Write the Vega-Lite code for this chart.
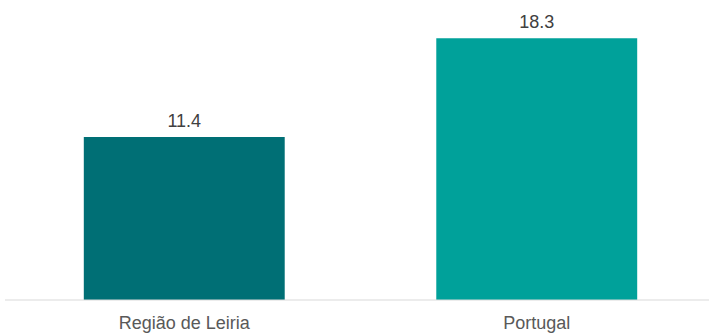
{
  "$schema": "https://vega.github.io/schema/vega-lite/v6.json",
  "width": 704,
  "height": 286,
  "autosize": {"type": "none"},
  "padding": {"left": 5, "right": 0, "top": 14, "bottom": 33},
  "background": "#ffffff",
  "config": {"view": {"stroke": null}, "font": "Liberation Sans"},
  "data": {"values": [
    {"regiao": "Região de Leiria", "valor": 11.4},
    {"regiao": "Portugal", "valor": 18.3}
  ]},
  "encoding": {
    "x": {
      "field": "regiao", "type": "nominal", "sort": null,
      "scale": {"range": [7, 704], "paddingInner": 0.43, "paddingOuter": 0.2037},
      "axis": {"title": null, "domain": false, "ticks": false, "tickSize": 0, "labelAngle": 0,
               "labelFont": "Liberation Sans", "labelFontSize": 18, "labelColor": "#595959",
               "labelBaseline": "alphabetic", "labelPadding": 28}
    }
  },
  "layer": [
    {
      "mark": {"type": "bar"},
      "encoding": {
        "y": {"field": "valor", "type": "quantitative", "scale": {"domain": [0, 20]}, "axis": null},
        "color": {"field": "regiao", "type": "nominal", "sort": null,
                  "scale": {"domain": ["Região de Leiria", "Portugal"], "range": ["#006f75", "#00a19a"]},
                  "legend": null}
      }
    },
    {
      "mark": {"type": "text", "baseline": "alphabetic", "dy": -10, "fontSize": 18, "font": "Liberation Sans", "color": "#404040"},
      "encoding": {
        "y": {"field": "valor", "type": "quantitative"},
        "text": {"field": "valor", "type": "quantitative", "format": ".1f"}
      }
    },
    {
      "data": {"values": [{"base": 0}]},
      "mark": {"type": "rule", "color": "#d9d9d9", "strokeWidth": 1},
      "encoding": {
        "x": null,
        "y": {"field": "base", "type": "quantitative"}
      }
    }
  ]
}
